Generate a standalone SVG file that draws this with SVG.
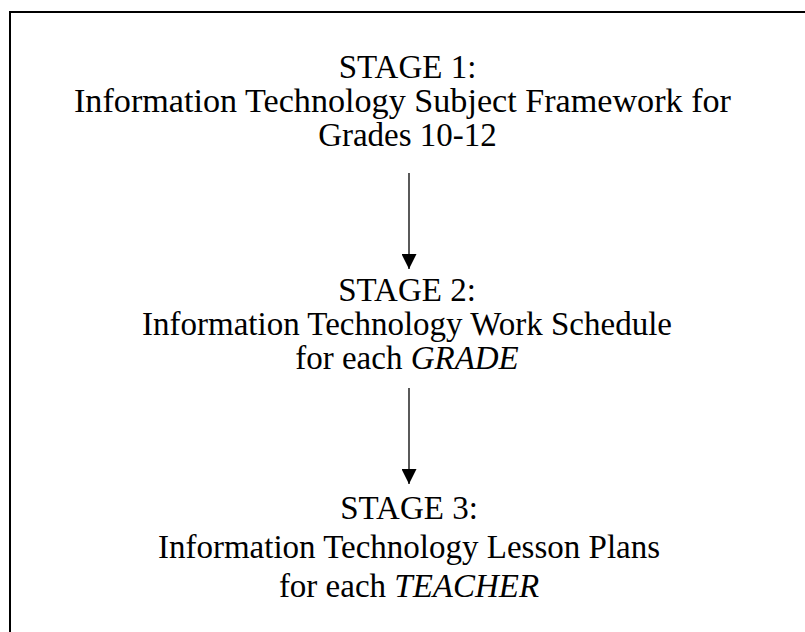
<svg xmlns="http://www.w3.org/2000/svg" width="805" height="632" viewBox="0 0 805 632">
<defs>
<style>
.t{font-family:"Liberation Serif","Times New Roman",serif;font-size:33px;fill:#000;text-anchor:middle}
.i{font-style:italic}
.c{stroke:#000;stroke-width:1.3;fill:none}
</style>
<marker id="ah" markerUnits="userSpaceOnUse" markerWidth="16" markerHeight="15" refX="15" refY="7.5" orient="auto">
<path d="M0,0 L15,7.5 L0,15 Z" fill="#000"/>
</marker>
</defs>
<rect width="805" height="632" fill="#fff"/>
<path d="M10,632 V12 H805" fill="none" stroke="#000" stroke-width="2"/>
<g id="stage1">
<text class="t" x="407.5" y="78">STAGE 1:</text>
<text class="t" x="402.5" y="112" textLength="657" lengthAdjust="spacingAndGlyphs">Information Technology Subject Framework for</text>
<text class="t" x="407.5" y="146">Grades 10-12</text>
</g>
<g id="stage2">
<text class="t" x="407" y="301">STAGE 2:</text>
<text class="t" x="407" y="335">Information Technology Work Schedule</text>
<text class="t" x="407" y="369">for each <tspan class="i">GRADE</tspan></text>
</g>
<g id="stage3">
<text class="t" x="409" y="519">STAGE 3:</text>
<text class="t" x="409" y="558">Information Technology Lesson Plans</text>
<text class="t" x="409" y="597">for each <tspan class="i">TEACHER</tspan></text>
</g>
<g id="connectors">
<line class="c" x1="409" y1="173" x2="409" y2="269" marker-end="url(#ah)"/>
<line class="c" x1="409" y1="388" x2="409" y2="484" marker-end="url(#ah)"/>
</g>
</svg>
